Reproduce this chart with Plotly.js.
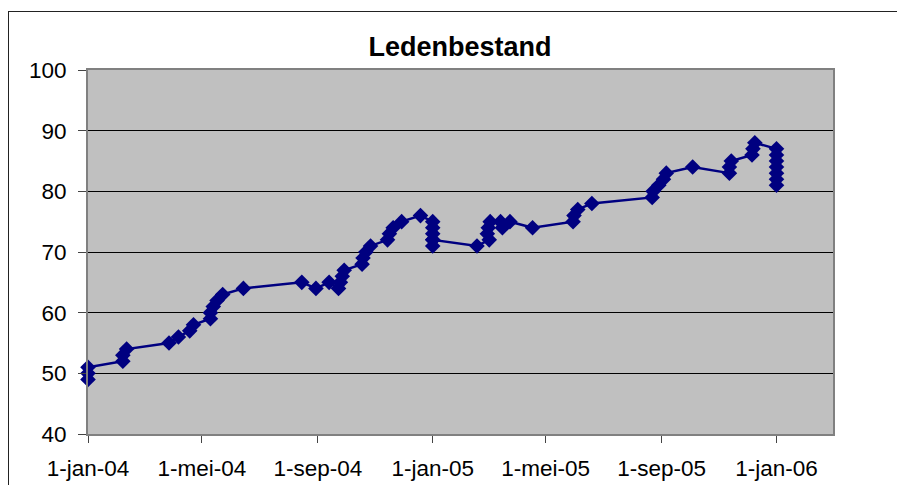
<!DOCTYPE html>
<html>
<head>
<meta charset="utf-8">
<script src="https://cdn.plot.ly/plotly-3.0.1.min.js"></script>
<style>
  html, body { margin: 0; padding: 0; background: #fff; overflow: hidden; }
  #wrap { position: relative; width: 897px; height: 485px; }
  #chart { width: 897px; height: 485px; }
  #frame { position: absolute; left: 8px; top: 11px; width: 1000px; height: 1000px;
           border-left: 1.5px solid #222; border-top: 1.5px solid #222; pointer-events: none; }
</style>
</head>
<body>
<div id="wrap">
  <div id="chart"></div>
  <div id="frame"></div>
</div>
<script>
// Data
const dates = [
  '2004-01-01','2004-01-01','2004-01-01',
  '2004-02-07','2004-02-07','2004-02-11',
  '2004-03-27','2004-04-06','2004-04-18','2004-04-22',
  '2004-05-10','2004-05-10','2004-05-13','2004-05-17','2004-05-23',
  '2004-06-14',
  '2004-08-15','2004-08-30','2004-09-13',
  '2004-09-23','2004-09-25','2004-09-27','2004-09-29',
  '2004-10-18','2004-10-19','2004-10-22','2004-10-27',
  '2004-11-14','2004-11-16','2004-11-20','2004-11-29',
  '2004-12-19',
  '2005-01-01','2005-01-01','2005-01-01','2005-01-01','2005-01-01','2005-01-01',
  '2005-02-17',
  '2005-03-02','2005-02-28','2005-03-01','2005-03-03',
  '2005-03-14','2005-03-16','2005-03-24',
  '2005-04-17',
  '2005-05-30','2005-05-31','2005-06-04','2005-06-19',
  '2005-08-22','2005-08-23','2005-08-29','2005-09-03','2005-09-06',
  '2005-10-04',
  '2005-11-12','2005-11-12','2005-11-14',
  '2005-12-06','2005-12-07','2005-12-09',
  '2006-01-01','2006-01-01','2006-01-01','2006-01-01','2006-01-01','2006-01-01','2006-01-01'
];
const members = [
  49, 50, 51,
  52, 53, 54,
  55, 56, 57, 58,
  59, 60, 61, 62, 63,
  64,
  65, 64, 65,
  64, 65, 66, 67,
  68, 69, 70, 71,
  72, 73, 74, 75,
  76,
  75, 74, 73, 72, 71, 72,
  71,
  72, 73, 74, 75,
  75, 74, 75,
  74,
  75, 76, 77, 78,
  79, 80, 81, 82, 83,
  84,
  83, 84, 85,
  86, 87, 88,
  87, 86, 85, 84, 83, 82, 81
];
const xTickVals = ['2004-01-01','2004-05-01','2004-09-01','2005-01-01','2005-05-01','2005-09-01','2006-01-01'];
const xTickText = ['1-jan-04','1-mei-04','1-sep-04','1-jan-05','1-mei-05','1-sep-05','1-jan-06'];
const yTickVals = [40, 50, 60, 70, 80, 90, 100];
const chartTitle = 'Ledenbestand';

const FONT = '"Liberation Sans", Arial, Helvetica, sans-serif';

const trace = {
  x: dates,
  y: members,
  type: 'scatter',
  mode: 'lines+markers',
  cliponaxis: false,
  line: { color: '#000080', width: 2.5 },
  marker: { symbol: 'diamond', size: 12, color: '#000080', line: { width: 0 } },
  hoverinfo: 'skip'
};

const layout = {
  width: 897,
  height: 485,
  margin: { l: 88, r: 64, t: 70, b: 51 },
  paper_bgcolor: '#ffffff',
  plot_bgcolor: '#C0C0C0',
  showlegend: false,
  font: { family: FONT, color: '#000' },
  title: {
    text: '<b>' + chartTitle + '</b>',
    font: { family: FONT, size: 27, color: '#000' },
    x: 460 / 897, xref: 'container', xanchor: 'center',
    y: 1 - 47 / 485, yref: 'container', yanchor: 'middle'
  },
  xaxis: {
    type: 'date',
    range: ['2004-01-01', '2006-03-02'],
    tickmode: 'array',
    tickvals: xTickVals,
    ticktext: xTickText,
    ticks: 'outside',
    ticklen: 7,
    tickwidth: 1,
    tickcolor: '#444',
    ticklabelstandoff: 6,
    tickfont: { family: FONT, size: 22.5, color: '#000' },
    showgrid: false,
    zeroline: false,
    showline: true,
    linecolor: '#808080',
    linewidth: 2,
    mirror: true
  },
  yaxis: {
    range: [40, 100],
    tickmode: 'array',
    tickvals: yTickVals,
    ticks: 'outside',
    ticklen: 8,
    tickwidth: 1,
    tickcolor: '#444',
    ticklabelstandoff: 7,
    tickfont: { family: FONT, size: 22.5, color: '#000' },
    showgrid: true,
    gridcolor: '#000',
    gridwidth: 1,
    zeroline: false,
    showline: true,
    linecolor: '#808080',
    linewidth: 2,
    mirror: true
  }
};

Plotly.newPlot('chart', [trace], layout, { displayModeBar: false, staticPlot: true });
</script>
</body>
</html>
